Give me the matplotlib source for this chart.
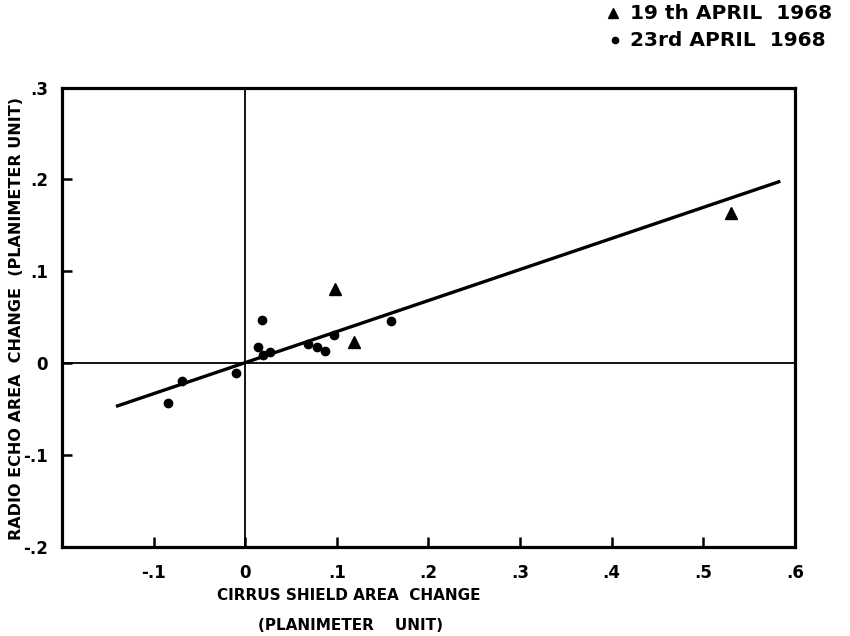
import matplotlib
matplotlib.use("Agg")
import matplotlib.pyplot as plt
from matplotlib.lines import Line2D

plt.rcParams['font.family'] = ['DejaVu Sans']
plt.rcParams['font.weight'] = 'bold'

# 23rd April 1968 (circles)
apr23_x = [-0.084, -0.069, -0.010, 0.018, 0.014, 0.019, 0.027, 0.069, 0.078, 0.087, 0.097, 0.159]
apr23_y = [-0.043, -0.019, -0.011, 0.047, 0.018, 0.009, 0.012, 0.021, 0.018, 0.013, 0.031, 0.046]

# 19th April 1968 (triangles)
apr19_x = [0.098, 0.119, 0.530]
apr19_y = [0.081, 0.023, 0.164]

# fitted line end points
fit_x = [-0.141, 0.584]
fit_y = [-0.047, 0.198]

xticks = [-0.1, 0.0, 0.1, 0.2, 0.3, 0.4, 0.5, 0.6]
xtick_labels = ['-.1', '0', '.1', '.2', '.3', '.4', '.5', '.6']
yticks = [-0.2, -0.1, 0.0, 0.1, 0.2, 0.3]
ytick_labels = ['-.2', '-.1', '0', '.1', '.2', '.3']

fig = plt.figure(figsize=(8.5, 6.36), dpi=100)
ax = fig.add_axes([0.0729, 0.1399, 0.8624, 0.7225])

ax.set_xlim(-0.2, 0.6)
ax.set_ylim(-0.2, 0.3)

ax.axhline(0, color='black', lw=1.3, zorder=1)
ax.axvline(0, color='black', lw=1.3, zorder=1)

ax.plot(fit_x, fit_y, color='black', lw=2.4, solid_capstyle='butt', zorder=2)
ax.plot(apr23_x, apr23_y, 'o', color='black', ms=6, zorder=3)
ax.plot(apr19_x, apr19_y, '^', color='black', ms=8.5, zorder=3)

for s in ax.spines.values():
    s.set_linewidth(2.3)

ax.set_xticks(xticks)
ax.set_xticklabels(xtick_labels)
ax.set_yticks(yticks)
ax.set_yticklabels(ytick_labels)
ax.tick_params(direction='in', length=7, width=1.8, labelsize=12, pad=12)
ax.tick_params(axis='y', pad=10)

fig.text(0.020, 0.5, 'RADIO ECHO AREA  CHANGE  (PLANIMETER UNIT)', rotation=90,
         ha='center', va='center', fontsize=11.5, fontweight='bold')
fig.text(0.410, 0.063, 'CIRRUS SHIELD AREA  CHANGE', ha='center', va='center',
         fontsize=11, fontweight='bold')
fig.text(0.412, 0.017, '(PLANIMETER    UNIT)', ha='center', va='center',
         fontsize=11, fontweight='bold')

# legend drawn in figure coordinates above the axes
fig.add_artist(Line2D([0.721], [0.979], marker='^', color='black', ms=7,
                      transform=fig.transFigure))
fig.add_artist(Line2D([0.7235], [0.937], marker='o', color='black', ms=4.5,
                      transform=fig.transFigure))
fig.text(0.741, 0.979, '19 th APRIL  1968', ha='left', va='center', fontsize=14.5,
         fontweight='bold')
fig.text(0.741, 0.937, '23rd APRIL  1968', ha='left', va='center', fontsize=14.5,
         fontweight='bold')

fig.savefig('out.png', dpi=100)
